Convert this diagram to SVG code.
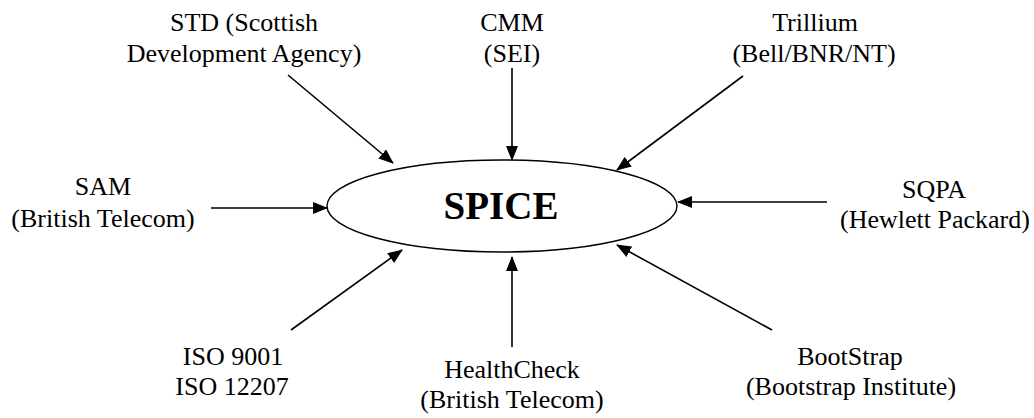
<svg xmlns="http://www.w3.org/2000/svg" width="1034" height="418" viewBox="0 0 1034 418">
<style>
text{font-family:"Liberation Serif","Times New Roman",Times,serif}
.t{font-size:26px;fill:#000;text-anchor:middle}
.c{stroke:#000;stroke-width:1.6;fill:none;marker-end:url(#ah)}
</style>
<defs>
<marker id="ah" markerWidth="15" markerHeight="12" refX="14" refY="6" orient="auto" markerUnits="userSpaceOnUse">
<path d="M0,0 L15,6 L0,12 Z" fill="#000"/>
</marker>
</defs>
<rect width="1034" height="418" fill="#fff"/>
<g id="spice">
<ellipse cx="502" cy="206" rx="175" ry="46" fill="#fff" stroke="#000" stroke-width="1.4"/>
<text x="501" y="219" font-family="Liberation Serif, serif" font-size="39" font-weight="bold" text-anchor="middle">SPICE</text>
</g>
<g font-family="Liberation Serif, serif">
<g id="std"><text class="t" x="244" y="31">STD (Scottish</text><text class="t" x="244" y="62">Development Agency)</text></g>
<g id="cmm"><text class="t" x="512" y="31">CMM</text><text class="t" x="512" y="62">(SEI)</text></g>
<g id="trillium"><text class="t" x="815" y="31">Trillium</text><text class="t" x="814" y="62">(Bell/BNR/NT)</text></g>
<g id="sam"><text class="t" x="103" y="195">SAM</text><text class="t" x="103" y="227">(British Telecom)</text></g>
<g id="sqpa"><text class="t" x="934" y="198">SQPA</text><text class="t" x="935" y="228">(Hewlett Packard)</text></g>
<g id="iso"><text class="t" x="233" y="365">ISO 9001</text><text class="t" x="232" y="395">ISO 12207</text></g>
<g id="healthcheck"><text class="t" x="512" y="378">HealthCheck</text><text class="t" x="512" y="408">(British Telecom)</text></g>
<g id="bootstrap"><text class="t" x="850" y="365">BootStrap</text><text class="t" x="851" y="395">(Bootstrap Institute)</text></g>
</g>
<g id="connectors">
<line class="c" x1="288" y1="75" x2="393" y2="163"/>
<line class="c" x1="512" y1="68" x2="512" y2="160"/>
<line class="c" x1="743" y1="76" x2="617" y2="170"/>
<line class="c" x1="211" y1="208" x2="327" y2="208"/>
<line class="c" x1="827" y1="202" x2="678" y2="202"/>
<line class="c" x1="291" y1="330" x2="402" y2="250"/>
<line class="c" x1="512" y1="347" x2="512" y2="257"/>
<line class="c" x1="772" y1="330" x2="617" y2="245"/>
</g>
</svg>
